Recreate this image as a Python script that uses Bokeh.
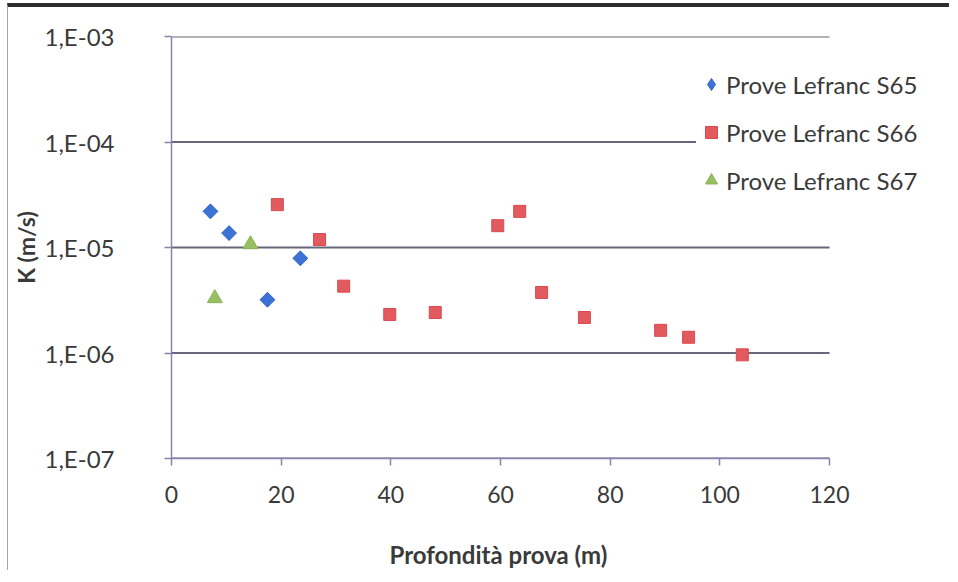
import math
from bokeh.plotting import figure
from bokeh.models import FixedTicker, CustomJSTickFormatter, Legend, LegendItem, Range1d, Title
from bokeh.embed import file_html
from bokeh.resources import INLINE

# Data
s65_depth = [7.1, 10.5, 17.5, 23.5]
s65_k = [2.2e-5, 1.37e-5, 3.2e-6, 7.9e-6]

s66_depth = [19.3, 27.0, 31.4, 39.8, 48.1, 59.5, 63.5, 67.5, 75.3, 89.2, 94.3, 104.1]
s66_k = [2.55e-5, 1.19e-5, 4.3e-6, 2.32e-6, 2.42e-6, 1.61e-5, 2.2e-5, 3.75e-6, 2.17e-6, 1.64e-6, 1.41e-6, 9.6e-7]

s67_depth = [7.9, 14.4]
s67_k = [3.3e-6, 1.07e-5]

series_names = ["Prove Lefranc S65", "Prove Lefranc S66", "Prove Lefranc S67"]
x_ticks = [0, 20, 40, 60, 80, 100, 120]
y_ticks = [1e-7, 1e-6, 1e-5, 1e-4, 1e-3]
x_title = "Profondità prova (m)"
y_title = "K (m/s)"

FONT = "Lato"
TXT = "#3a3a3a"
AXC = "#8585ad"
GRID = "#66667c"
BLUE, RED, GREEN = "#3C72D4", "#E35A5E", "#97C063"

# frame spans 0..120 on the axis; extra room on the right hosts the legend
x_end = 120 * (940 - 171) / 658

p = figure(width=942, height=567, output_backend="svg", toolbar_location=None,
           y_axis_type="log", x_range=Range1d(0, x_end), y_range=Range1d(1e-7, 1e-3),
           min_border_left=163, min_border_right=10, min_border_top=29, min_border_bottom=116)
p.styles = {"border-top": "4px solid #2e2e2e", "margin-top": "3px",
            "border-left": "1px solid #a4a4b8", "margin-left": "7px"}
p.outline_line_color = None
p.background_fill_color = "white"
p.border_fill_color = "white"

p.xaxis.ticker = FixedTicker(ticks=x_ticks)
p.xaxis.bounds = (x_ticks[0], x_ticks[-1])
p.yaxis.ticker = FixedTicker(ticks=y_ticks, minor_ticks=[])
p.yaxis.formatter = CustomJSTickFormatter(code="""
const e = Math.round(Math.log10(tick));
const s = e < 0 ? '-' : '+';
return '1,E' + s + String(Math.abs(e)).padStart(2, '0');
""")

for ax in (p.xaxis, p.yaxis):
    ax.axis_line_color = AXC
    ax.axis_line_width = 1.5
    ax.major_tick_line_color = AXC
    ax.major_tick_line_width = 1.5
    ax.major_tick_out = 7
    ax.major_tick_in = 0
    ax.minor_tick_line_color = None
    ax.major_label_text_font = FONT
    ax.major_label_text_color = TXT
    ax.axis_label_text_font = FONT
    ax.axis_label_text_font_style = "bold"
    ax.axis_label_text_font_size = "23px"
    ax.axis_label_text_color = TXT

p.xaxis.major_label_text_font_size = "23px"
p.yaxis.major_label_text_font_size = "24px"
p.yaxis.axis_label = y_title
p.xaxis.major_label_standoff = 20
p.yaxis.major_label_standoff = 50
p.yaxis.axis_label_standoff = 2
# blank x-axis label only reserves vertical room; the visible title is below
p.xaxis.axis_label = " "
p.xaxis.axis_label_text_font_size = "24px"
p.xaxis.axis_label_standoff = 0

# x title centred under the 0..120 axis (not under the whole frame)
p.add_layout(Title(text=x_title, align="left", offset=218, standoff=0,
                   text_font=FONT, text_font_style="bold", text_font_size="24px",
                   text_color=TXT), "below")

p.xgrid.grid_line_color = None
p.ygrid.grid_line_color = None

# horizontal gridlines limited to the axis extent
p.segment(x0=[x_ticks[0]] * len(y_ticks), y0=y_ticks, x1=[x_ticks[-1]] * len(y_ticks), y1=y_ticks,
          line_color=GRID, line_width=2)

# S65: diamond (used for the legend swatch) covered by a 45-degree square
r1 = p.scatter(s65_depth, s65_k, marker="diamond", size=14, fill_color=BLUE,
               line_color="#3366C8", line_width=1)
p.scatter(s65_depth, s65_k, marker="square", angle=math.pi / 4, size=10.5, fill_color=BLUE,
          line_color="#3366C8", line_width=1)
r2 = p.scatter(s66_depth, s66_k, marker="square", size=12, fill_color=RED,
               line_color="#D84A50", line_width=1)
r3 = p.scatter(s67_depth, s67_k, marker="triangle", size=15, fill_color=GREEN,
               line_color="#88B255", line_width=1)

legend = Legend(items=[LegendItem(label=series_names[0], renderers=[r1]),
                       LegendItem(label=series_names[1], renderers=[r2]),
                       LegendItem(label=series_names[2], renderers=[r3])],
                location=(525, 263), orientation="vertical",
                glyph_width=30, glyph_height=30, label_height=30, spacing=18,
                padding=20, label_standoff=0, margin=0,
                label_text_font=FONT, label_text_font_size="24px", label_text_color=TXT,
                background_fill_color="white", background_fill_alpha=1.0,
                border_line_color=None)
p.add_layout(legend, "center")

open("out.html", "w").write(file_html(p, INLINE))
